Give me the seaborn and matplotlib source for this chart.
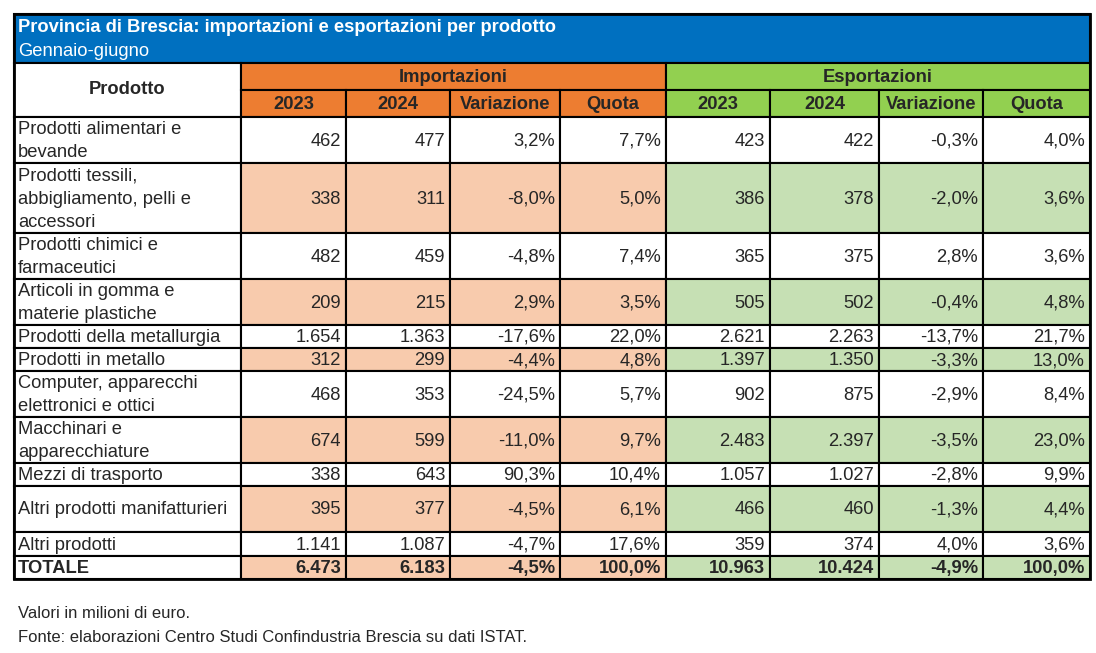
import matplotlib
matplotlib.use("Agg")
import matplotlib.pyplot as plt
from matplotlib.patches import Rectangle
import seaborn as sns

# --- data -------------------------------------------------------------
products = [
    "Prodotti alimentari e\nbevande",
    "Prodotti tessili,\nabbigliamento, pelli e\naccessori",
    "Prodotti chimici e\nfarmaceutici",
    "Articoli in gomma e\nmaterie plastiche",
    "Prodotti della metallurgia",
    "Prodotti in metallo",
    "Computer, apparecchi\nelettronici e ottici",
    "Macchinari e\napparecchiature",
    "Mezzi di trasporto",
    "Altri prodotti manifatturieri",
    "Altri prodotti",
    "TOTALE",
]
imp_2023 = [462, 338, 482, 209, 1654, 312, 468, 674, 338, 395, 1141, 6473]
imp_2024 = [477, 311, 459, 215, 1363, 299, 353, 599, 643, 377, 1087, 6183]
imp_var = [3.2, -8.0, -4.8, 2.9, -17.6, -4.4, -24.5, -11.0, 90.3, -4.5, -4.7, -4.5]
imp_quota = [7.7, 5.0, 7.4, 3.5, 22.0, 4.8, 5.7, 9.7, 10.4, 6.1, 17.6, 100.0]
exp_2023 = [423, 386, 365, 505, 2621, 1397, 902, 2483, 1057, 466, 359, 10963]
exp_2024 = [422, 378, 375, 502, 2263, 1350, 875, 2397, 1027, 460, 374, 10424]
exp_var = [-0.3, -2.0, 2.8, -0.4, -13.7, -3.3, -2.9, -3.5, -2.8, -1.3, 4.0, -4.9]
exp_quota = [4.0, 3.6, 3.6, 4.8, 21.7, 13.0, 8.4, 23.0, 9.9, 4.4, 3.6, 100.0]
sub_headers = ["2023", "2024", "Variazione", "Quota"]

title = "Provincia di Brescia: importazioni e esportazioni per prodotto"
subtitle = "Gennaio-giugno"
notes = ["Valori in milioni di euro.",
         "Fonte: elaborazioni Centro Studi Confindustria Brescia su dati ISTAT."]

# --- layout (pixel grid) ----------------------------------------------
col_x = [14, 241, 346, 450, 560, 666, 770, 879, 983, 1090]
row_h = [46, 70, 46, 46, 23, 23, 46, 46, 23, 46, 24, 23]
top, head1, head2, body0 = 14, 63, 90, 117

BLUE = "#0070C0"
ORANGE = "#ED7D31"
GREEN = "#92D050"
ORANGE_L = "#F8CBAD"
GREEN_L = "#C6E0B4"
LW = 1.5
FS = 13.2


def it_int(v):
    return f"{v:,}".replace(",", ".")


def it_pct(v):
    return f"{v:.1f}%".replace(".", ",")


sns.set_style("white")
plt.rcParams["font.family"] = ["Liberation Sans", "DejaVu Sans"]

fig = plt.figure(figsize=(10.96, 6.53), dpi=100)
ax = fig.add_axes([0, 0, 1, 1])
ax.set_xlim(0, 1096)
ax.set_ylim(653, 0)
ax.axis("off")


def cell(x0, x1, y0, y1, color):
    ax.add_patch(Rectangle((x0, y0), x1 - x0, y1 - y0, facecolor=color,
                           edgecolor="black", linewidth=LW, zorder=1))


# title band
cell(col_x[0], col_x[-1], top, head1, BLUE)
ax.text(18, 28, title, color="white", fontsize=FS, fontweight="bold",
        va="center", ha="left")
ax.text(18, 51, subtitle, color="white", fontsize=FS, va="center", ha="left")

# header
cell(col_x[0], col_x[1], head1, body0, "white")
ax.text((col_x[0] + col_x[1]) / 2, (head1 + body0) / 2, "Prodotto",
        fontsize=FS, fontweight="bold", ha="center", va="center")
for g, (name, col) in enumerate([("Importazioni", ORANGE), ("Esportazioni", GREEN)]):
    xa, xb = col_x[1 + 4 * g], col_x[5 + 4 * g]
    cell(xa, xb, head1, head2, col)
    ax.text((xa + xb) / 2, (head1 + head2) / 2 + 1, name, fontsize=FS,
            fontweight="bold", ha="center", va="center")
    for k, lab in enumerate(sub_headers):
        c0, c1 = col_x[1 + 4 * g + k], col_x[2 + 4 * g + k]
        cell(c0, c1, head2, body0, col)
        ax.text((c0 + c1) / 2, (head2 + body0) / 2 + 1, lab, fontsize=FS,
                fontweight="bold", ha="center", va="center")

# body
columns = [
    [it_int(v) for v in imp_2023], [it_int(v) for v in imp_2024],
    [it_pct(v) for v in imp_var], [it_pct(v) for v in imp_quota],
    [it_int(v) for v in exp_2023], [it_int(v) for v in exp_2024],
    [it_pct(v) for v in exp_var], [it_pct(v) for v in exp_quota],
]
y = body0
for i, prod in enumerate(products):
    h = row_h[i]
    shaded = i % 2 == 1
    bold = "bold" if prod == "TOTALE" else "normal"
    cell(col_x[0], col_x[1], y, y + h, "white")
    ax.text(18, y + h / 2 + 1, prod, fontsize=FS, fontweight=bold,
            ha="left", va="center", linespacing=1.48)
    for j, vals in enumerate(columns):
        if shaded:
            col = ORANGE_L if j < 4 else GREEN_L
        else:
            col = "white"
        cell(col_x[j + 1], col_x[j + 2], y, y + h, col)
        ax.text(col_x[j + 2] - 5, y + h / 2 + 1, vals[i], fontsize=FS,
                fontweight=bold, ha="right", va="center")
    y += h

# outer frame
ax.add_patch(Rectangle((col_x[0], top), col_x[-1] - col_x[0], y - top,
                       fill=False, edgecolor="black", linewidth=2, zorder=3))

ax.text(18, 613, notes[0], fontsize=12, ha="left", va="center")
ax.text(18, 637, notes[1], fontsize=12, ha="left", va="center")

fig.savefig("out.png", dpi=100)
